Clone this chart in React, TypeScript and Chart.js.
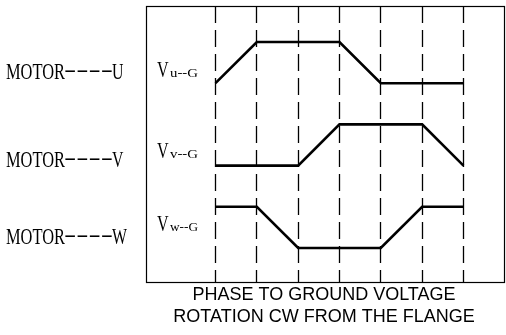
import React, { useEffect, useRef } from "react";
import { Chart, registerables } from "chart.js";

Chart.register(...registerables);

// ---- data ----
const steps = [0, 1, 2, 3, 4, 5, 6];
const phaseU = [5, 6, 6, 6, 5, 5, 5];
const phaseV = [3, 3, 3, 4, 4, 4, 3];
const phaseW = [2, 2, 1, 1, 1, 2, 2];
const motorLabels = ["MOTOR----U", "MOTOR----V", "MOTOR----W"];
const voltageMain = ["V", "V", "V"];
const voltageSub = ["u--G", "v--G", "w--G"];
const captionLines = ["PHASE TO GROUND VOLTAGE", "ROTATION CW FROM THE FLANGE"];

const SERIF = '"Liberation Serif", "Times New Roman", serif';
const SANS = '"Liberation Sans", Arial, sans-serif';

function drawFit(ctx: CanvasRenderingContext2D, text: string, x: number, base: number, font: string, width: number) {
  ctx.font = font;
  const w = ctx.measureText(text).width || 1;
  ctx.save();
  ctx.translate(x, base);
  ctx.scale(width / w, 1);
  ctx.textAlign = "left";
  ctx.textBaseline = "alphabetic";
  ctx.fillText(text, 0, 0);
  ctx.restore();
}

function drawScaled(ctx: CanvasRenderingContext2D, text: string, x: number, base: number, font: string, sx: number) {
  ctx.font = font;
  ctx.save();
  ctx.translate(x, base);
  ctx.scale(sx, 1);
  ctx.textAlign = "left";
  ctx.textBaseline = "alphabetic";
  ctx.fillText(text, 0, 0);
  ctx.restore();
}

const decorPlugin = {
  id: "decor",
  beforeDatasetsDraw(chart: any) {
    const { ctx, chartArea: a, scales } = chart;
    const x = scales.x;
    ctx.save();
    ctx.strokeStyle = "#000";
    ctx.lineWidth = 1.3;
    ctx.setLineDash([17, 7]);
    steps.forEach((s) => {
      const px = Math.round(x.getPixelForValue(s) - 0.5) + 0.5;
      ctx.beginPath();
      ctx.moveTo(px, a.top);
      ctx.lineTo(px, a.bottom);
      ctx.stroke();
    });
    ctx.setLineDash([]);
    ctx.lineWidth = 1.2;
    ctx.strokeRect(a.left + 0.5, a.top + 0.5, a.right - a.left - 1, a.bottom - a.top - 1);
    ctx.restore();
  },
  afterDraw(chart: any) {
    const { ctx } = chart;
    ctx.save();
    ctx.fillStyle = "#000";
    const motorBase = [79, 166.5, 244];
    const voltBase = [77, 158, 231];
    motorLabels.forEach((lbl, i) => {
      const m = lbl.match(/^(.*?)(-+)(.)$/);
      if (!m) return;
      const b = motorBase[i];
      drawFit(ctx, m[1], 6, b, `24px ${SERIF}`, 59);
      drawFit(ctx, m[2], 64, b - 3, `22px ${SERIF}`, 49);
      drawScaled(ctx, m[3], 112, b, `24px ${SERIF}`, 0.66);
    });
    voltageMain.forEach((v, i) => {
      const b = voltBase[i];
      drawScaled(ctx, v, 157, b, `23px ${SERIF}`, 0.7);
      drawFit(ctx, voltageSub[i], 170, b, `13px ${SERIF}`, 28);
    });
    ctx.font = `18px ${SANS}`;
    ctx.textAlign = "center";
    ctx.textBaseline = "alphabetic";
    const cx = 324;
    ctx.fillText(captionLines[0], cx, 300);
    ctx.fillText(captionLines[1], cx, 321.5);
    ctx.restore();
  },
};

export default function App() {
  const ref = useRef<HTMLCanvasElement | null>(null);
  useEffect(() => {
    if (!ref.current) return;
    const mk = (vals: number[]) => steps.map((s, i) => ({ x: s, y: vals[i] }));
    const ds = (label: string, vals: number[]) => ({
      label,
      data: mk(vals),
      borderColor: "#000",
      backgroundColor: "#000",
      borderWidth: 2.6,
      pointRadius: 0,
      tension: 0,
      fill: false,
      clip: false as any,
    });
    const chart = new Chart(ref.current, {
      type: "line",
      data: {
        datasets: [ds("U", phaseU), ds("V", phaseV), ds("W", phaseW)],
      },
      options: {
        animation: false,
        responsive: false,
        maintainAspectRatio: false,
        layout: { padding: { left: 146, right: 1, top: 6, bottom: 52 } },
        plugins: { legend: { display: false }, tooltip: { enabled: false } },
        scales: {
          x: { type: "linear", display: false, min: -1.6815, max: 7.005 },
          y: { type: "linear", display: false, min: 0.15, max: 6.874 },
        },
      },
      plugins: [decorPlugin],
    });
    return () => chart.destroy();
  }, []);
  return (
    <div style={{ position: "absolute", left: 0, top: 0, width: 506, height: 335, background: "#fff" }}>
      <canvas ref={ref} width={506} height={335} style={{ width: 506, height: 335, display: "block" }} />
    </div>
  );
}
